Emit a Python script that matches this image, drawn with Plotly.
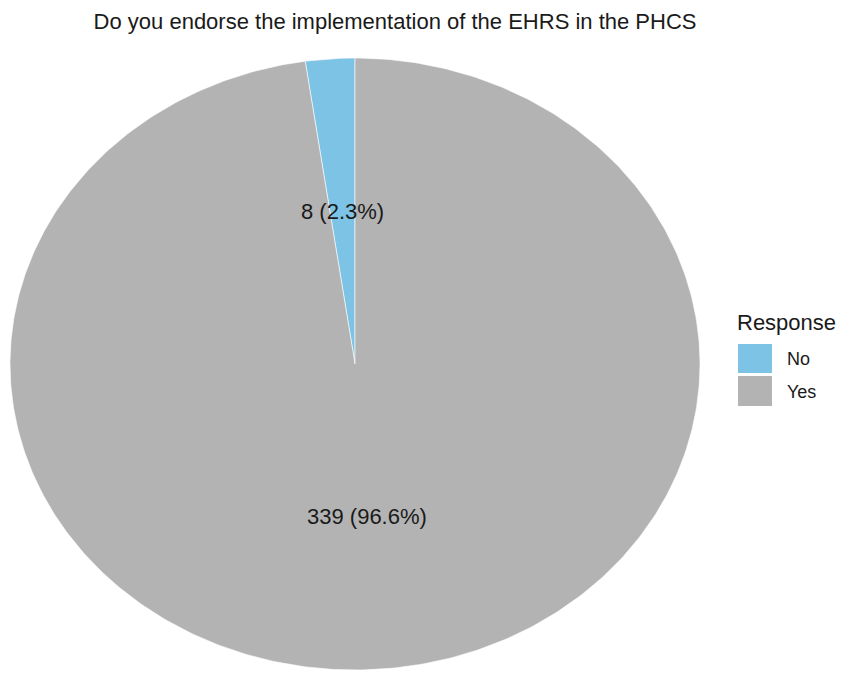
import numpy as np
import plotly.graph_objects as go

title = "Do you endorse the implementation of the EHRS in the PHCS"
responses = ["No", "Yes"]
counts = [8, 339]
pct_labels = ["2.3%", "96.6%"]
colors = ["#7DC3E5", "#B3B3B3"]

FONT = "Liberation Sans, Arial, sans-serif"
TXT = "#1A1A1A"

fig = go.Figure()

total = sum(counts)
frac_no = counts[0] / total
# angles as fractions of a turn, clockwise from 12 o'clock; "No" sits counter-clockwise of the top
spans = {"No": (-frac_no, 0.0), "Yes": (0.0, 1.0 - frac_no)}

for name, col in zip(responses, colors):
    a0, a1 = spans[name]
    t = np.linspace(a0, a1, 500) * 2 * np.pi
    xs = np.concatenate([[0], np.sin(t), [0]])
    ys = np.concatenate([[0], np.cos(t), [0]])
    fig.add_trace(go.Scatter(
        x=xs, y=ys, mode="lines", fill="toself", fillcolor=col,
        line=dict(color="white", width=0.6), name=name, showlegend=False,
        hoverinfo="skip"))

# slice labels at mid-angle, half radius
for name, cnt, p in zip(responses, counts, pct_labels):
    a0, a1 = spans[name]
    m = (a0 + a1) / 2 * 2 * np.pi
    fig.add_annotation(x=0.5 * np.sin(m), y=0.5 * np.cos(m),
                       text=f"{cnt} ({p})", showarrow=False,
                       font=dict(size=22, color=TXT, family=FONT))

# manual legend (paper coordinates)
fig.add_annotation(xref="paper", yref="paper", x=1.050, y=0.567, xanchor="left", yanchor="middle",
                   text="Response", showarrow=False,
                   font=dict(size=22, color=TXT, family=FONT))
sw = [(0.4853, 0.5327, 0.508), (0.4314, 0.4804, 0.4542)]
for name, col, (y0, y1, yt) in zip(responses, colors, sw):
    fig.add_shape(type="rect", xref="paper", yref="paper",
                  x0=1.0551, x1=1.1043, y0=y0, y1=y1,
                  fillcolor=col, line=dict(width=0))
    fig.add_annotation(xref="paper", yref="paper", x=1.1232, y=yt, xanchor="left", yanchor="middle",
                       text=name, showarrow=False,
                       font=dict(size=18, color=TXT, family=FONT))

fig.update_layout(
    width=851, height=685,
    margin=dict(l=2, r=159, t=50, b=23),
    paper_bgcolor="white", plot_bgcolor="white",
    title=dict(text=title, x=0.4548, xanchor="center", y=1 - 13 / 685, yanchor="middle",
               font=dict(size=22, color=TXT, family=FONT)),
    xaxis=dict(range=[-1, 1], visible=False, fixedrange=True),
    yaxis=dict(range=[-1, 1], visible=False, fixedrange=True),
    showlegend=False,
)

fig.write_html("out.html")
